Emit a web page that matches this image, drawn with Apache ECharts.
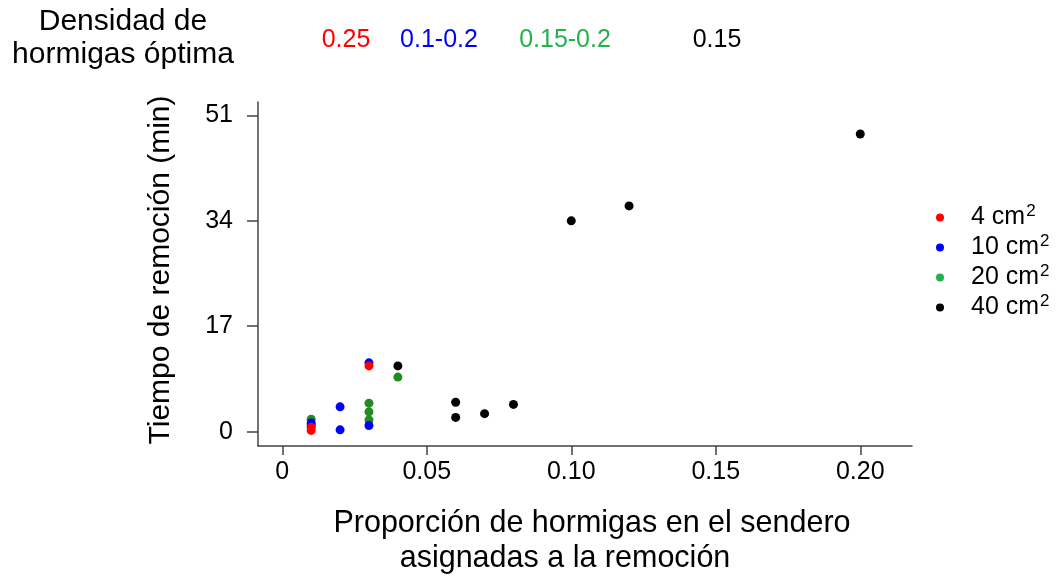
<!DOCTYPE html>
<html>
<head>
<meta charset="utf-8">
<title>Tiempo de remoción</title>
<script src="https://cdn.jsdelivr.net/npm/echarts@6/dist/echarts.min.js"></script>
<style>
  html, body { margin: 0; padding: 0; background: #fff; }
  #chart { width: 1060px; height: 577px; }
</style>
</head>
<body>
<div id="chart"></div>
<script>
// Particle sizes (cm²) shown in the legend, in legend order
const areaNames = ['4', '10', '20', '40'];
// Optimal ant density per particle size, printed across the top
const optimalDensity = ['0.25', '0.1-0.2', '0.15-0.2', '0.15'];

// Proportion of trail ants assigned to removal (x) and removal time in min (y)
const area4X = [0.01, 0.01, 0.03];
const area4Y = [0.7, 0.2, 10.6];

const area10X = [0.01, 0.01, 0.02, 0.02, 0.03, 0.03];
const area10Y = [1.4, 1.0, 4.0, 0.3, 11.1, 1.0];

const area20X = [0.01, 0.03, 0.03, 0.03, 0.04];
const area20Y = [2.0, 4.6, 3.2, 1.9, 8.8];

const area40X = [0.04, 0.06, 0.06, 0.07, 0.08, 0.10, 0.12, 0.20];
const area40Y = [10.6, 4.75, 2.3, 2.9, 4.4, 34.0, 36.4, 48.0];

// Axis tick positions and labels
const xTicks = [0, 0.05, 0.10, 0.15, 0.20];
const xTickLabels = ['0', '0.05', '0.10', '0.15', '0.20'];
const yTicks = [0, 17, 34, 51];

const pointColors = { '4': '#ff0000', '10': '#0000ff', '20': '#228b22', '40': '#000000' };
const keyColors = { '4': '#ff0000', '10': '#0000ff', '20': '#22b14c', '40': '#000000' };

const FONT = '"Liberation Sans", Arial, sans-serif';

function pairs(xs, ys) {
  return xs.map((x, i) => [x, ys[i]]);
}

const seriesData = {
  '4': pairs(area4X, area4Y),
  '10': pairs(area10X, area10Y),
  '20': pairs(area20X, area20Y),
  '40': pairs(area40X, area40Y)
};

// Draw order: 40, 20, 10, 4 (smaller particles end up on top)
const drawOrder = ['40', '20', '10', '4'];
const series = drawOrder.map(name => ({
  name: name,
  type: 'scatter',
  symbol: 'circle',
  symbolSize: 9,
  itemStyle: { color: pointColors[name], opacity: 1 },
  data: seriesData[name],
  emphasis: { disabled: true }
}));

const densityX = [346, 439, 565, 717];
const densityColors = ['#ff0000', '#0000ff', '#22b14c', '#000000'];

const graphics = [
  {
    type: 'text', x: 123, y: 22,
    style: { text: 'Densidad de', font: '30px ' + FONT, fill: '#000', align: 'center', verticalAlign: 'middle' }
  },
  {
    type: 'text', x: 123, y: 55,
    style: { text: 'hormigas óptima', font: '30px ' + FONT, fill: '#000', align: 'center', verticalAlign: 'middle' }
  },
  {
    type: 'text', x: 592, y: 524,
    style: { text: 'Proporción de hormigas en el sendero', font: '30.5px ' + FONT, fill: '#000', align: 'center', verticalAlign: 'middle' }
  },
  {
    type: 'text', x: 565, y: 559,
    style: { text: 'asignadas a la remoción', font: '30.5px ' + FONT, fill: '#000', align: 'center', verticalAlign: 'middle' }
  },
  {
    type: 'text', x: 161, y: 270, rotation: Math.PI / 2,
    style: { text: 'Tiempo de remoción (min)', font: '30px ' + FONT, fill: '#000', align: 'center', verticalAlign: 'middle' }
  }
].concat(optimalDensity.map((t, i) => ({
  type: 'text', x: densityX[i], y: 40,
  style: { text: t, font: '25px ' + FONT, fill: densityColors[i], align: 'center', verticalAlign: 'middle' }
})));

const chart = echarts.init(document.getElementById('chart'), null, { renderer: 'canvas' });
chart.setOption({
  animation: false,
  backgroundColor: '#ffffff',
  grid: {
    left: 258, right: 148, top: 102, bottom: 131,
    containLabel: false, outerBoundsMode: 'none'
  },
  xAxis: {
    type: 'value',
    min: -0.0084, max: 0.2179,
    splitLine: { show: false },
    axisLine: { show: true, onZero: false, lineStyle: { color: '#444', width: 1.5 } },
    axisTick: { show: true, length: 9, customValues: xTicks, lineStyle: { color: '#444', width: 1.5 } },
    axisLabel: {
      customValues: xTicks,
      margin: 14,
      fontSize: 25, fontFamily: FONT, color: '#000',
      formatter: v => xTickLabels[xTicks.findIndex(t => Math.abs(t - v) < 1e-9)]
    }
  },
  yAxis: {
    type: 'value',
    min: -2.31, max: 53.16,
    splitLine: { show: false },
    axisLine: { show: true, onZero: false, lineStyle: { color: '#444', width: 1.5 } },
    axisTick: { show: true, length: 11, customValues: yTicks, lineStyle: { color: '#444', width: 1.5 } },
    axisLabel: {
      customValues: yTicks,
      margin: 25,
      fontSize: 25, fontFamily: FONT, color: '#000'
    }
  },
  legend: {
    orient: 'vertical',
    left: 931, top: 198,
    itemWidth: 8, itemHeight: 8, itemGap: 3,
    icon: 'circle',
    selectedMode: false,
    data: areaNames.map(n => ({ name: n, itemStyle: { color: keyColors[n] } })),
    formatter: name => '{t|' + name + ' cm}{s|2}',
    textStyle: {
      padding: [0, 0, 0, 22],
      rich: {
        t: { fontSize: 25, fontFamily: FONT, color: '#000', lineHeight: 29 },
        s: { fontSize: 17, fontFamily: FONT, color: '#000', verticalAlign: 'top', lineHeight: 29, padding: [0, 0, 10, 1] }
      }
    }
  },
  graphic: graphics,
  series: series
});
</script>
</body>
</html>
